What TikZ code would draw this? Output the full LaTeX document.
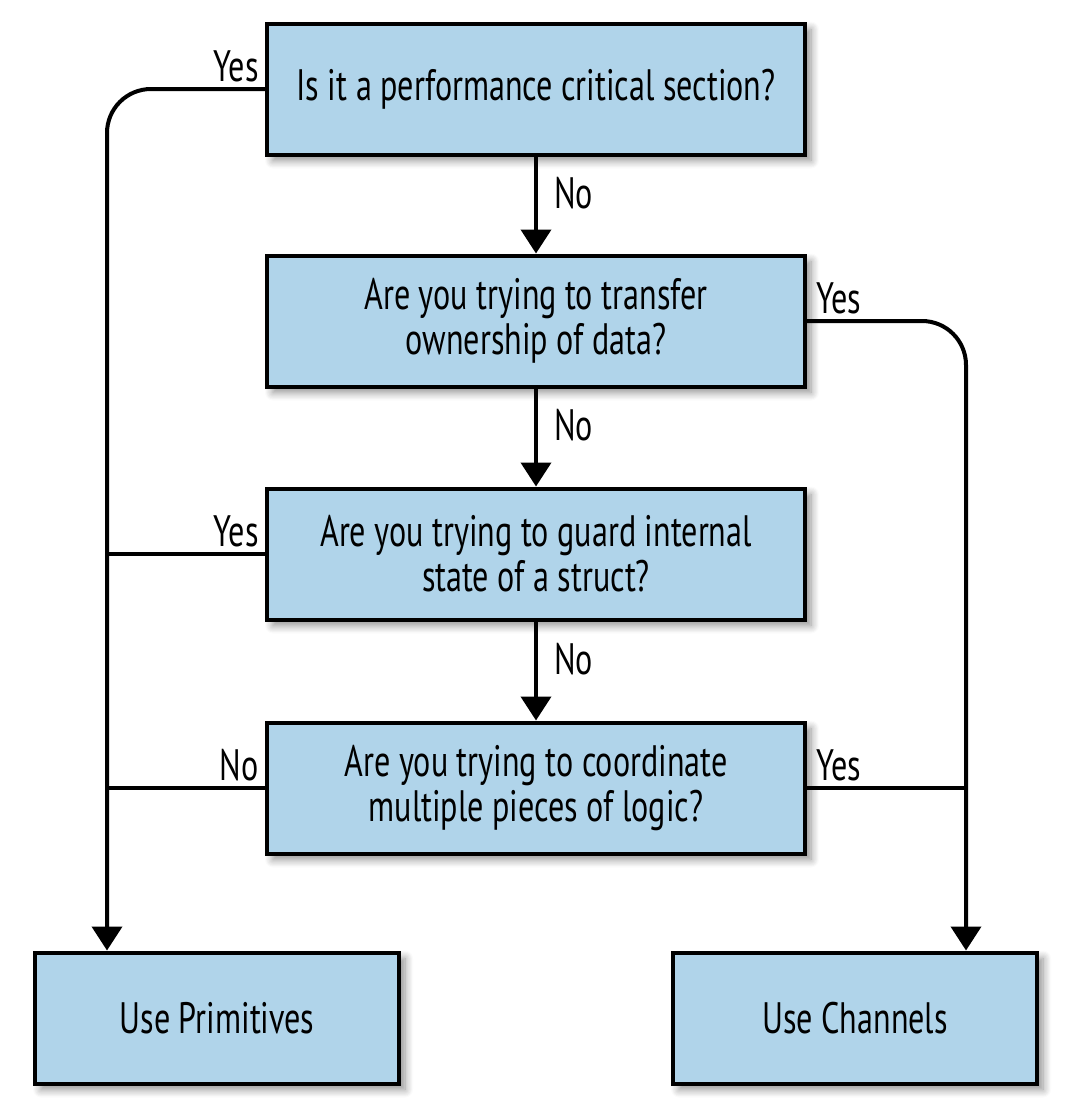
\documentclass[tikz,border=0pt]{standalone}
\usepackage{fontspec}
\setmainfont{PT Sans}[FakeStretch=0.73]
\usetikzlibrary{arrows.meta,shadows.blur}
\definecolor{boxblue}{RGB}{176,212,234}
\begin{document}
\begin{tikzpicture}[x=0.5pt,y=-0.5pt,
  font=\fontsize{22}{22.5}\selectfont,
  box/.style={draw=black, line width=2pt, fill=boxblue, align=center,
    minimum width=269pt, minimum height=65.5pt, inner sep=0pt,
    blur shadow={shadow xshift=3pt, shadow yshift=-3pt, shadow blur steps=8, shadow blur radius=4pt, shadow opacity=45}},
  endbox/.style={box, minimum width=182pt},
  conn/.style={line width=2pt},
  arr/.style={conn, -{Triangle[width=15pt,length=12pt]}},
  lbl/.style={inner sep=0pt}]
\useasboundingbox (0,0) rectangle (1074,1119);
\node[box] (q1) at (536,89) {Is it a performance critical section?};
\node[box] (q2) at (536,321) {Are you trying to transfer\\ownership of data?};
\node[box] (q3) at (536,554) {Are you trying to guard internal\\state of a struct?};
\node[box] (q4) at (536,788) {Are you trying to coordinate\\multiple pieces of logic?};
\node[endbox] (prim) at (217,1018) {Use Primitives};
\node[endbox] (chan) at (855,1018) {Use Channels};
\coordinate (lx) at (107,0);
\coordinate (rx) at (966,0);
% vertical No arrows
\draw[arr] (q1.south) -- node[lbl, anchor=west, xshift=8pt, yshift=6pt] {No} (q2.north);
\draw[arr] (q2.south) -- node[lbl, anchor=west, xshift=8pt, yshift=6pt] {No} (q3.north);
\draw[arr] (q3.south) -- node[lbl, anchor=west, xshift=8pt, yshift=6pt] {No} (q4.north);
% left side
\draw[arr, rounded corners=22pt] (q1.west) -| (lx |- prim.north);
\draw[conn] (q3.west) -- (q3.west -| lx);
\draw[conn] (q4.west) -- (q4.west -| lx);
% right side
\draw[arr, rounded corners=22pt] (q2.east) -| (rx |- chan.north);
\draw[conn] (q4.east) -- (q4.east -| rx);
% labels
\node[lbl, anchor=base east] at ([xshift=-3pt, yshift=4pt]q1.west) {Yes};
\node[lbl, anchor=base west] at ([xshift=4.5pt, yshift=4pt]q2.east) {Yes};
\node[lbl, anchor=base east] at ([xshift=-3pt, yshift=4pt]q3.west) {Yes};
\node[lbl, anchor=base east] at ([xshift=-3pt, yshift=4pt]q4.west) {No};
\node[lbl, anchor=base west] at ([xshift=4.5pt, yshift=4pt]q4.east) {Yes};
\end{tikzpicture}
\end{document}
